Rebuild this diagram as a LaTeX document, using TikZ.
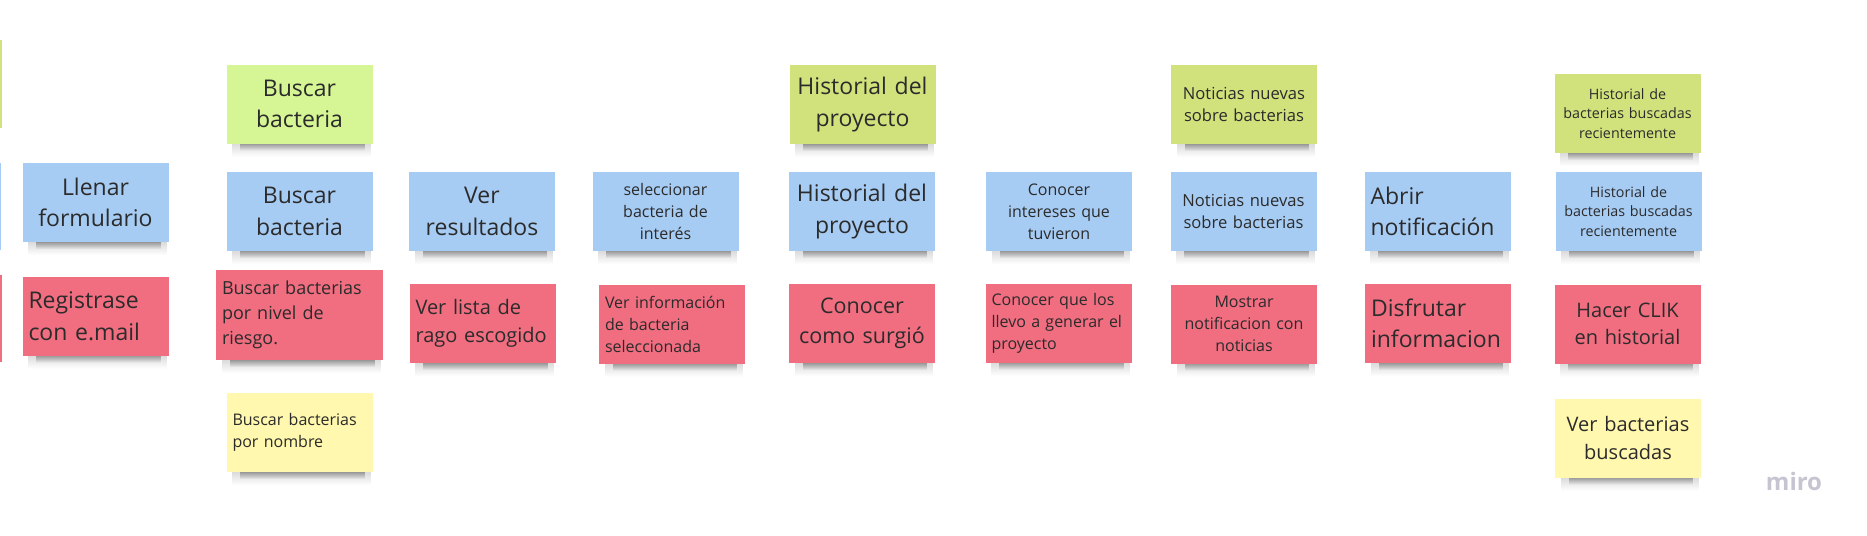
\documentclass[tikz,border=0pt]{standalone}
\usepackage{fontspec}
\setmainfont{Open Sans}
\usetikzlibrary{backgrounds,fadings}

\definecolor{notelime}{HTML}{D6F594}
\definecolor{notegreen}{HTML}{D1E27C}
\definecolor{noteblue}{HTML}{A7CCF4}
\definecolor{notered}{HTML}{F16D80}
\definecolor{noteyellow}{HTML}{FFF8AE}
\definecolor{inkgray}{HTML}{2B2B2B}
\definecolor{mirogray}{HTML}{C5C5D1}

\begin{document}
\begin{tikzpicture}[x=1pt, y=-1pt,
    note/.style={rectangle, inner xsep=2pt, inner ysep=0pt, text width=142pt,
                 minimum height=79pt, text=inkgray, align=center},
    flush/.style={align=left, inner xsep=6pt, text width=134pt},
    huge/.style={font=\fontsize{23}{31.5}\selectfont},
    large/.style={font=\fontsize{20}{27.5}\selectfont},
    mid/.style={font=\fontsize{18}{24.8}\selectfont},
    small/.style={font=\fontsize{16}{22}\selectfont},
    tiny/.style={font=\fontsize{14.3}{19.6}\selectfont}]
    \useasboundingbox (0,0) rectangle (1867,535);
    \clip (0,0) rectangle (1867,535);

    % Stickies cut off at the left edge
    \fill[notegreen] (-150, 40) rectangle (1.5, 128);
    \fill[noteblue] (-150, 163) rectangle (1, 250);
    \fill[notered] (-150, 275) rectangle (2, 362);

    % Column 1: registro
    \node[note, fill=noteblue, huge] (llenar) at (95.5, 202.5) {Llenar\\formulario};
    \node[note, fill=notered, huge, flush] (registro) at (95.5, 316) {Registrase\\con e.mail};

    % Column 2: buscar
    \node[note, fill=notelime, huge] (buscarG) at (299.5, 104) {Buscar\\bacteria};
    \node[note, fill=noteblue, huge] (buscarB) at (299.5, 211.5) {Buscar\\bacteria};
    \node[note, fill=notered, mid, flush, text width=155pt, minimum height=90pt] (nivel)
        at (299.5, 315) {Buscar bacterias\\por nivel de\\riesgo.};
    \node[note, fill=noteyellow, small, flush] (nombre) at (299.5, 432.5) {Buscar bacterias\\por nombre};

    % Column 3: resultados
    \node[note, fill=noteblue, huge] (resultados) at (482, 211.5) {Ver\\resultados};
    \node[note, fill=notered, large, flush] (lista) at (482.5, 323.5) {Ver lista de\\rago escogido};

    % Column 4: seleccion
    \node[note, fill=noteblue, small] (seleccion) at (665.5, 211.5) {seleccionar\\bacteria de\\interés};
    \node[note, fill=notered, small, flush] (info) at (672, 324) {Ver información\\de bacteria\\seleccionada};

    % Column 5: historial del proyecto
    \node[note, fill=notegreen, huge] (proyectoG) at (862.5, 104.5) {Historial del\\proyecto};
    \node[note, fill=noteblue, huge] (proyectoB) at (862, 211.5) {Historial del\\proyecto};
    \node[note, fill=notered, font=\fontsize{21.5}{29.5}\selectfont] (surgio) at (862, 323.5) {Conocer\\como surgió};

    % Column 6: intereses
    \node[note, fill=noteblue, small] (intereses) at (1059, 211.5) {Conocer\\intereses que\\tuvieron};
    \node[note, fill=notered, small, flush] (generar) at (1058.5, 323) {Conocer que los\\llevo a generar el\\proyecto};

    % Column 7: noticias
    \node[note, fill=notegreen, font=\fontsize{16.6}{22.8}\selectfont] (noticiasG) at (1244, 104.5) {Noticias nuevas\\sobre bacterias};
    \node[note, fill=noteblue, font=\fontsize{16.6}{22.8}\selectfont] (noticiasB) at (1243.5, 211.5) {Noticias nuevas\\sobre bacterias};
    \node[note, fill=notered, small] (mostrar) at (1244, 324) {Mostrar\\notificacion con\\noticias};

    % Column 8: notificacion
    \node[note, fill=noteblue, huge, flush] (abrir) at (1437.5, 211.5) {Abrir\\notificación};
    \node[note, fill=notered, huge, flush] (disfrutar) at (1438, 323.5) {Disfrutar\\informacion};

    % Column 9: historial de bacterias
    \node[note, fill=notegreen, tiny] (recientesG) at (1627.5, 113.5) {Historial de\\bacterias buscadas\\recientemente};
    \node[note, fill=noteblue, tiny] (recientesB) at (1628.5, 211.5) {Historial de\\bacterias buscadas\\recientemente};
    \node[note, fill=notered, large] (clik) at (1627.5, 324) {Hacer CLIK\\en historial};
    \node[note, fill=noteyellow, large] (buscadas) at (1628, 438) {Ver bacterias\\buscadas};

    % Shadows under the stickies
    \begin{scope}[on background layer]
        \foreach \n in {llenar, registro, buscarG, buscarB, nivel, nombre, resultados, lista,
                        seleccion, info, proyectoG, proyectoB, surgio, intereses, generar,
                        noticiasG, noticiasB, mostrar, abrir, disfrutar, recientesG,
                        recientesB, clik, buscadas} {
            \fill[black, opacity=0.16, path fading=south]
                ([xshift=6pt, yshift=2pt]\n.south west) rectangle ([xshift=-2pt, yshift=-13pt]\n.south east);
            \fill[black, opacity=0.38, path fading=south]
                ([xshift=14pt, yshift=2pt]\n.south west) rectangle ([xshift=-8pt, yshift=-7pt]\n.south east);
        }
    \end{scope}

    % Watermark
    \node[anchor=base, text=mirogray, font=\fontsize{24}{24}\selectfont\bfseries] (miro) at (1794, 490) {miro};
\end{tikzpicture}
\end{document}
